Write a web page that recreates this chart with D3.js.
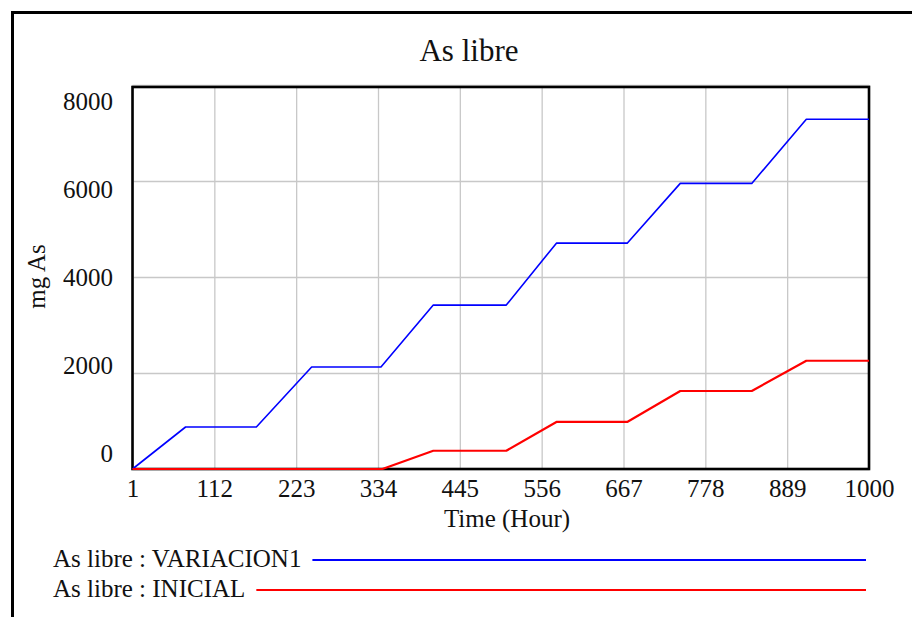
<!DOCTYPE html>
<html>
<head>
<meta charset="utf-8">
<script src="https://cdn.jsdelivr.net/npm/d3@7"></script>
<style>
  html, body { margin: 0; padding: 0; background: #fff; overflow: hidden; }
  svg { display: block; font-family: "Liberation Serif", "Times New Roman", serif; }
</style>
</head>
<body>
<svg id="chart" width="912" height="617"></svg>
<script>
// Simulated free arsenic (mg As) over time, two scenarios
const timeVariacion = [1, 73, 169, 244, 338, 409, 508, 576, 672, 744, 841, 915, 1000];
const valuesVariacion = [0, 875, 875, 2125, 2125, 3415, 3415, 4705, 4705, 5950, 5950, 7285, 7285];

const timeInicial = [1, 340, 409, 508, 576, 672, 744, 841, 915, 1000];
const valuesInicial = [0, 0, 380, 380, 980, 980, 1625, 1625, 2255, 2255];

const xTicks = [1, 112, 223, 334, 445, 556, 667, 778, 889, 1000];
const yTicks = [0, 2000, 4000, 6000, 8000];

const seriesNames = ["As libre : VARIACION1", "As libre : INICIAL"];
const seriesColors = ["#0000ff", "#ff0000"];

const svg = d3.select("#chart");

const plot = { left: 132.5, right: 869, top: 85, bottom: 469 };

const x = d3.scaleLinear().domain([1, 1000]).range([plot.left, plot.right]);
const y = d3.scaleLinear().domain([0, 8000]).range([plot.bottom, plot.top]);
// value labels sit on their own, slightly tighter spacing
const yLabel = d3.scaleLinear().domain([0, 8000]).range([453, 101]);

// outer frame
svg.append("rect")
  .attr("x", 12.5).attr("y", 12.5)
  .attr("width", 1000).attr("height", 1000)
  .attr("fill", "none").attr("stroke", "#000").attr("stroke-width", 3);

// title
svg.append("text")
  .attr("x", 469).attr("y", 61)
  .attr("text-anchor", "middle")
  .attr("font-size", 31)
  .attr("fill", "#111")
  .text("As libre");

// vertical gridlines
svg.append("g")
  .attr("transform", `translate(0,${plot.bottom})`)
  .call(d3.axisBottom(x).tickValues(xTicks).tickSize(-(plot.bottom - plot.top)).tickFormat(""))
  .call(g => g.select(".domain").remove())
  .call(g => g.selectAll("line").attr("stroke", "#c8c8c8").attr("stroke-width", 1.3));

// horizontal gridlines
svg.append("g")
  .attr("transform", `translate(${plot.left},0)`)
  .call(d3.axisLeft(y).tickValues(yTicks).tickSize(-(plot.right - plot.left)).tickFormat(""))
  .call(g => g.select(".domain").remove())
  .call(g => g.selectAll("line").attr("stroke", "#c8c8c8").attr("stroke-width", 1.3));

// x tick labels
svg.append("g")
  .attr("transform", `translate(0,${plot.bottom})`)
  .call(d3.axisBottom(x).tickValues(xTicks).tickSize(0).tickPadding(0).tickFormat(d3.format("d")))
  .call(g => g.select(".domain").remove())
  .call(g => g.selectAll("text")
    .attr("y", 28).attr("dy", null)
    .attr("font-size", 25).attr("font-family", "Liberation Serif, Times New Roman, serif")
    .attr("fill", "#111"));

// y tick labels
svg.append("g")
  .attr("transform", "translate(113,0)")
  .call(d3.axisLeft(yLabel).tickValues(yTicks).tickSize(0).tickPadding(0).tickFormat(d3.format("d")))
  .call(g => g.select(".domain").remove())
  .call(g => g.selectAll("text")
    .attr("x", 0).attr("dy", "0.35em")
    .attr("font-size", 25).attr("font-family", "Liberation Serif, Times New Roman, serif")
    .attr("fill", "#111"));

// axis titles
svg.append("text")
  .attr("x", 507).attr("y", 527)
  .attr("text-anchor", "middle")
  .attr("font-size", 25).attr("fill", "#111")
  .text("Time (Hour)");

svg.append("text")
  .attr("transform", "translate(45,276.5) rotate(-90)")
  .attr("text-anchor", "middle")
  .attr("font-size", 25).attr("fill", "#111")
  .text("mg As");

// plot frame
svg.append("rect")
  .attr("x", plot.left).attr("y", plot.top + 2)
  .attr("width", plot.right - plot.left).attr("height", plot.bottom - plot.top - 2)
  .attr("fill", "none").attr("stroke", "#000").attr("stroke-width", 2.6);

// series
const line = d3.line().x(d => x(d[0])).y(d => y(d[1]));
const series = [
  { t: timeVariacion, v: valuesVariacion, color: seriesColors[0], w: 1.6 },
  { t: timeInicial, v: valuesInicial, color: seriesColors[1], w: 2.2 }
];
series.forEach(s => {
  svg.append("path")
    .datum(s.t.map((t, i) => [t, s.v[i]]))
    .attr("d", line)
    .attr("fill", "none")
    .attr("stroke", s.color)
    .attr("stroke-width", s.w)
    .attr("stroke-linejoin", "round");
});

// legend
const legendY = [567, 597];
seriesNames.forEach((name, i) => {
  const txt = svg.append("text")
    .attr("x", 53).attr("y", legendY[i])
    .attr("font-size", 25).attr("fill", "#111")
    .text(name);
  const end = txt.node().getComputedTextLength() + 53;
  svg.append("line")
    .attr("x1", end + 11).attr("x2", 866)
    .attr("y1", legendY[i] - 7).attr("y2", legendY[i] - 7)
    .attr("stroke", seriesColors[i]).attr("stroke-width", 2);
});
</script>
</body>
</html>
